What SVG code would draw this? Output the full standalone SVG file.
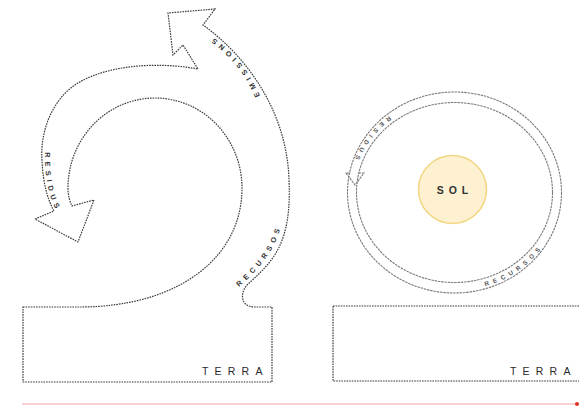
<svg xmlns="http://www.w3.org/2000/svg" width="579" height="409" viewBox="0 0 579 409">
<style>
.dot{fill:none;stroke:#3c3c3c;stroke-width:1.2;stroke-dasharray:1.6 1}
.ring{fill:none;stroke:#7a7a7a;stroke-width:1.1;stroke-dasharray:2.5 0.8}
.lbl{font-family:"Liberation Sans",Arial,sans-serif;fill:#333;font-weight:bold}
.big{font-size:10.5px;letter-spacing:6.2px;font-weight:normal;fill:#2a2a2a}
.sm{font-size:7.3px;letter-spacing:4.3px}
.xs{font-size:6.2px;letter-spacing:4.6px;fill:#555}
</style>
<defs>
<path id="pResL" d="M45,152 C45,178 48,198 59,215"/>
<path id="pEmi" d="M260,96 C250,72 234,50 201,29"/>
<path id="pRecL" d="M239,287 C262,266 282,246 285,200"/>
<path id="pResR" d="M389,116 A105 98 0 0 0 349.9,176"/>
<path id="pRecR" d="M485.2,286.2 A105 98 0 0 0 553.9,226"/>
</defs>
<g id="left-cycle">
<path class="dot" fill="#fff" d="M23,307 L80,307 C95,307 115,306 140,300 C200,285 242,245 242,188 A87 90 0 0 0 68,188 C68,196 70,202 72,206 L94,200 L78,242 L35,219 L54,211 C48,200 43,185 42,160 C40,135 50,100 78,83 C110,64 160,62 198,69 L183,45 L173,55 L168,13 L215,9 L203,25 C245,55 287,110 289,180 C292,245 272,262 247,285 C240,293 240,307 255,307 L272,307 L272,382 L23,382 Z"/>
<text class="lbl sm"><textPath href="#pResL">RESIDUS</textPath></text>
<text class="lbl sm"><textPath href="#pEmi">EMISSIONS</textPath></text>
<text class="lbl sm"><textPath href="#pRecL">RECURSOS</textPath></text>
</g>
<g id="left-terra">
<text class="lbl big" x="202" y="375">TERRA</text>
</g>
<g id="right-cycle">
<ellipse class="ring" cx="454.5" cy="192.5" rx="107" ry="100.5"/>
<ellipse class="ring" cx="454.5" cy="192.5" rx="98" ry="90"/>
<path class="ring" fill="#fff" d="M349.5,173 L346,173 L355,185 L364,173 L358.8,173"/>
<text class="lbl xs"><textPath href="#pResR">RESIDUS</textPath></text>
<text class="lbl xs"><textPath href="#pRecR">RECURSOS</textPath></text>
</g>
<g id="sol">
<circle cx="452.5" cy="189.5" r="34" fill="#fdf1d2" stroke="#f2d57e" stroke-width="1.5"/>
<text class="lbl" x="455" y="193.5" text-anchor="middle" font-size="10.5" letter-spacing="5" fill="#444">SOL</text>
</g>
<g id="right-terra">
<rect class="dot" x="333" y="306" width="260" height="75"/>
<text class="lbl big" x="510" y="375" letter-spacing="5.6">TERRA</text>
</g>
<g id="baseline">
<line x1="22" y1="404" x2="576" y2="404" stroke="#f2a3a3" stroke-width="1"/>
<circle cx="577" cy="404" r="2" fill="#e0302c"/>
</g>
</svg>
